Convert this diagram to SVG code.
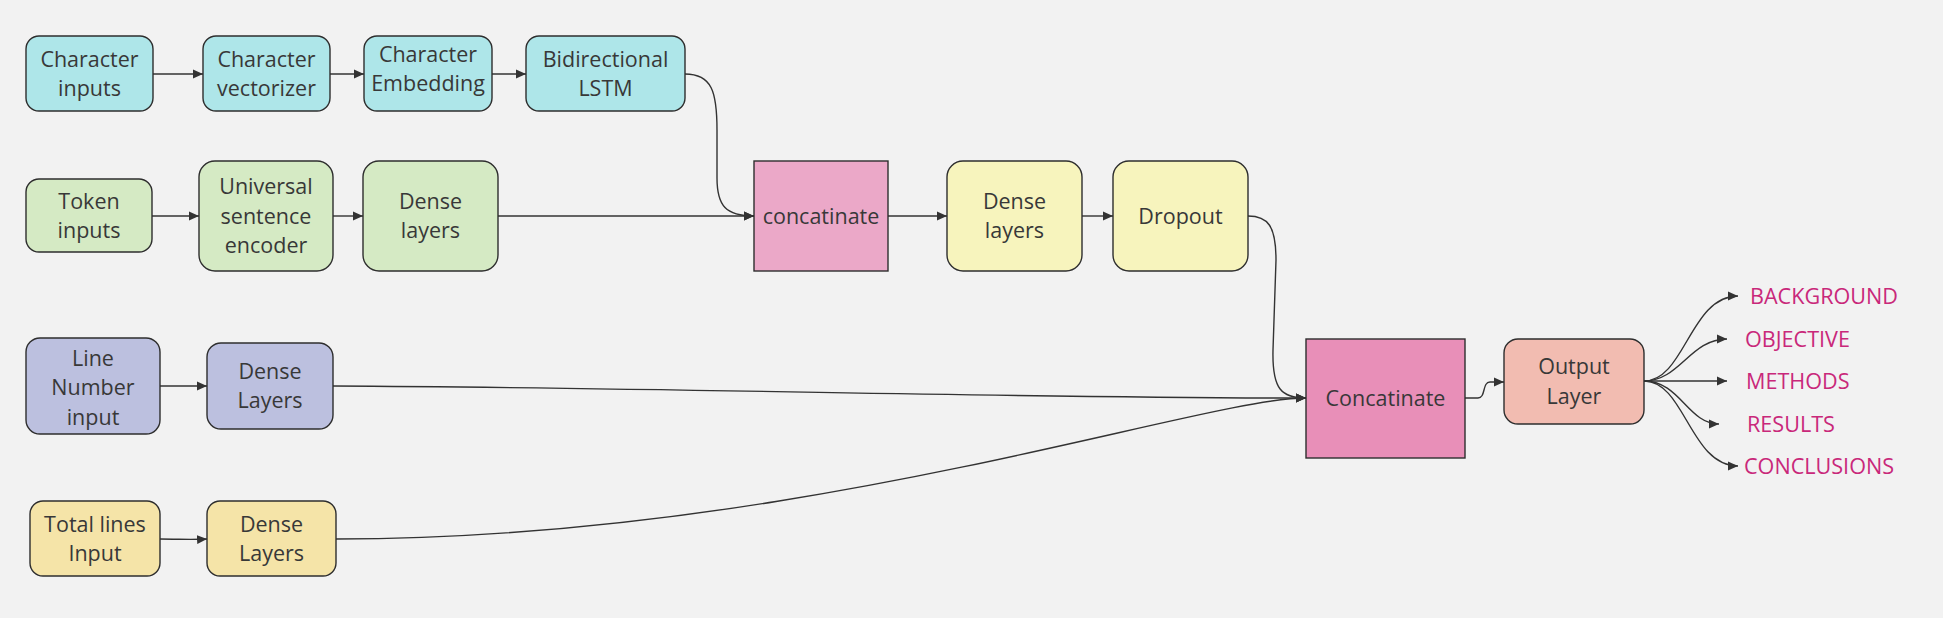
<svg xmlns="http://www.w3.org/2000/svg" width="1943" height="618" viewBox="0 0 1943 618">
<style>
.n{stroke:#2e2e2e;stroke-width:1.4}
.t{font-family:"Open Sans","Liberation Sans",sans-serif;font-size:21.5px;fill:#383838;text-anchor:middle}
.lb{font-family:"Open Sans","Liberation Sans",sans-serif;font-size:21.6px;fill:#c9287a}
.c{fill:none;stroke:#333;stroke-width:1.4;marker-end:url(#ah)}
.cy{fill:#aee6e9}.gr{fill:#d5eac4}.pk{fill:#eba8c8}.ye{fill:#f7f4bd}.pu{fill:#bcc0df}.tn{fill:#f5e4a8}.bp{fill:#e88fb8}.sa{fill:#f2bcb1}
</style>
<defs>
<marker id="ah" viewBox="0 0 10 10" refX="10" refY="5" markerWidth="10" markerHeight="10" markerUnits="userSpaceOnUse" orient="auto">
<path d="M0,0.5 L10,5 L0,9.5 z" fill="#333"/>
</marker>
</defs>
<rect width="1943" height="618" fill="#f2f2f2"/>
<g id="connectors">
<path class="c" d="M153,74 L203,74"/>
<path class="c" d="M330,74 L364,74"/>
<path class="c" d="M492,74 L526,74"/>
<path class="c" d="M685,74 C712,74 717,92 717,130 L717,178 C717,206 726,216 754,216"/>
<path class="c" d="M152,216 L199,216"/>
<path class="c" d="M333,216 L363,216"/>
<path class="c" d="M498,216 L754,216"/>
<path class="c" d="M888,216 L947,216"/>
<path class="c" d="M1082,216 L1113,216"/>
<path class="c" d="M1248,216 C1268,216 1276,226 1276,260 L1273,350 C1272,390 1282,398 1306,398"/>
<path class="c" d="M160,386 L207,386"/>
<path class="c" d="M333,386 C700,388 1000,398 1306,398"/>
<path class="c" d="M160,539 C180,539 190,540 207,539"/>
<path class="c" d="M336,539 C800,539 1200,398 1306,398"/>
<path class="c" d="M1465,398 L1478,398 C1486,398 1482,382 1490,382 L1504,382"/>
<path class="c" d="M1644,381 C1685,381 1690,296 1738,296"/>
<path class="c" d="M1644,381 C1680,381 1690,339 1727,339"/>
<path class="c" d="M1644,381 L1727,381"/>
<path class="c" d="M1644,381 C1680,381 1688,424 1719,424"/>
<path class="c" d="M1644,381 C1685,381 1690,466 1738,466"/>
</g>
<g id="char-inputs"><rect class="n cy" x="26" y="36" width="127" height="75" rx="13"/><text class="t" x="89.5" y="66.5">Character</text><text class="t" x="89.5" y="96">inputs</text></g>
<g id="char-vectorizer"><rect class="n cy" x="203" y="36" width="127" height="75" rx="13"/><text class="t" x="266.5" y="66.5">Character</text><text class="t" x="266.5" y="96">vectorizer</text></g>
<g id="char-embedding"><rect class="n cy" x="364" y="36" width="128" height="75" rx="13"/><text class="t" x="428" y="61.5">Character</text><text class="t" x="428" y="91">Embedding</text></g>
<g id="bilstm"><rect class="n cy" x="526" y="36" width="159" height="75" rx="13"/><text class="t" x="605.5" y="66.5">Bidirectional</text><text class="t" x="605.5" y="96">LSTM</text></g>
<g id="token-inputs"><rect class="n gr" x="26" y="179" width="126" height="73" rx="13"/><text class="t" x="89" y="208.5">Token</text><text class="t" x="89" y="238">inputs</text></g>
<g id="use"><rect class="n gr" x="199" y="161" width="134" height="110" rx="16"/><text class="t" x="266" y="194">Universal</text><text class="t" x="266" y="223.5">sentence</text><text class="t" x="266" y="253">encoder</text></g>
<g id="dense-green"><rect class="n gr" x="363" y="161" width="135" height="110" rx="16"/><text class="t" x="430.5" y="208.5">Dense</text><text class="t" x="430.5" y="238">layers</text></g>
<g id="concat1"><rect class="n pk" x="754" y="161" width="134" height="110"/><text class="t" x="821" y="223.5">concatinate</text></g>
<g id="dense-yellow"><rect class="n ye" x="947" y="161" width="135" height="110" rx="16"/><text class="t" x="1014.5" y="208.5">Dense</text><text class="t" x="1014.5" y="238">layers</text></g>
<g id="dropout"><rect class="n ye" x="1113" y="161" width="135" height="110" rx="16"/><text class="t" x="1180.5" y="223.5">Dropout</text></g>
<g id="line-number"><rect class="n pu" x="26" y="338" width="134" height="96" rx="14"/><text class="t" x="93" y="365.5">Line</text><text class="t" x="93" y="395">Number</text><text class="t" x="93" y="424.5">input</text></g>
<g id="dense-purple"><rect class="n pu" x="207" y="343" width="126" height="86" rx="14"/><text class="t" x="270" y="378.5">Dense</text><text class="t" x="270" y="408">Layers</text></g>
<g id="total-lines"><rect class="n tn" x="30" y="501" width="130" height="75" rx="13"/><text class="t" x="95" y="531.5">Total lines</text><text class="t" x="95" y="561">Input</text></g>
<g id="dense-tan"><rect class="n tn" x="207" y="501" width="129" height="75" rx="13"/><text class="t" x="271.5" y="531.5">Dense</text><text class="t" x="271.5" y="561">Layers</text></g>
<g id="concat2"><rect class="n bp" x="1306" y="339" width="159" height="119"/><text class="t" x="1385.5" y="406">Concatinate</text></g>
<g id="output-layer"><rect class="n sa" x="1504" y="339" width="140" height="85" rx="14"/><text class="t" x="1574" y="374">Output</text><text class="t" x="1574" y="403.5">Layer</text></g>
<g id="labels">
<text class="lb" x="1750" y="304">BACKGROUND</text>
<text class="lb" x="1745" y="347">OBJECTIVE</text>
<text class="lb" x="1746" y="389">METHODS</text>
<text class="lb" x="1747" y="432">RESULTS</text>
<text class="lb" x="1744" y="474">CONCLUSIONS</text>
</g>
</svg>
